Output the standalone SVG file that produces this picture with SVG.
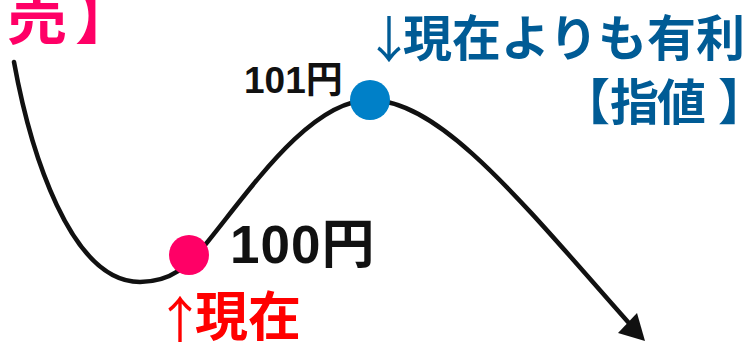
<svg xmlns="http://www.w3.org/2000/svg" width="748" height="342" viewBox="0 0 748 342">
<style>
.jp{font-family:"Liberation Sans","Noto Sans CJK JP",sans-serif;font-weight:bold}
.ar{font-family:"Noto Sans CJK JP",sans-serif;font-weight:normal;font-size:50px}
.curve{fill:none;stroke:#111;stroke-width:4.5;stroke-linecap:round}
</style>
<rect width="748" height="342" fill="#fff"/>
<g id="connectors">
<path class="curve" d="M14,62 C30,150 70,282 140,282 C175,282 190,262 205,245 C250,190 310,100 370,100 C440,100 520,200 628,322"/>
<polygon points="645,341 618,333 637,313" fill="#111"/>
</g>
<g id="label-sell"><text class="jp" y="39" font-size="60" fill="#FF0066"><tspan x="7">売</tspan><tspan x="75">】</tspan></text></g>
<g id="node-current">
<circle cx="189" cy="255" r="20" fill="#FF0066"/>
<text class="jp" x="230" y="263" font-size="53" letter-spacing="1" fill="#111">100円</text>
<text class="jp" y="336" font-size="53" fill="#FF0000"><tspan class="ar" x="155" y="338">↑</tspan><tspan x="195" y="336">現在</tspan></text>
</g>
<g id="node-limit">
<circle cx="370" cy="100" r="20" fill="#0080C8"/>
<text class="jp" x="244" y="93" font-size="37" fill="#111">101円</text>
<text class="jp" y="56" font-size="49" fill="#005B95"><tspan class="ar" x="364" y="58">↓</tspan><tspan x="403" y="56">現在よりも有利</tspan></text>
<text class="jp" y="120" font-size="49" fill="#005B95"><tspan x="561">【</tspan><tspan x="610">指</tspan><tspan x="657">値</tspan><tspan x="718">】</tspan></text>
</g>
</svg>
